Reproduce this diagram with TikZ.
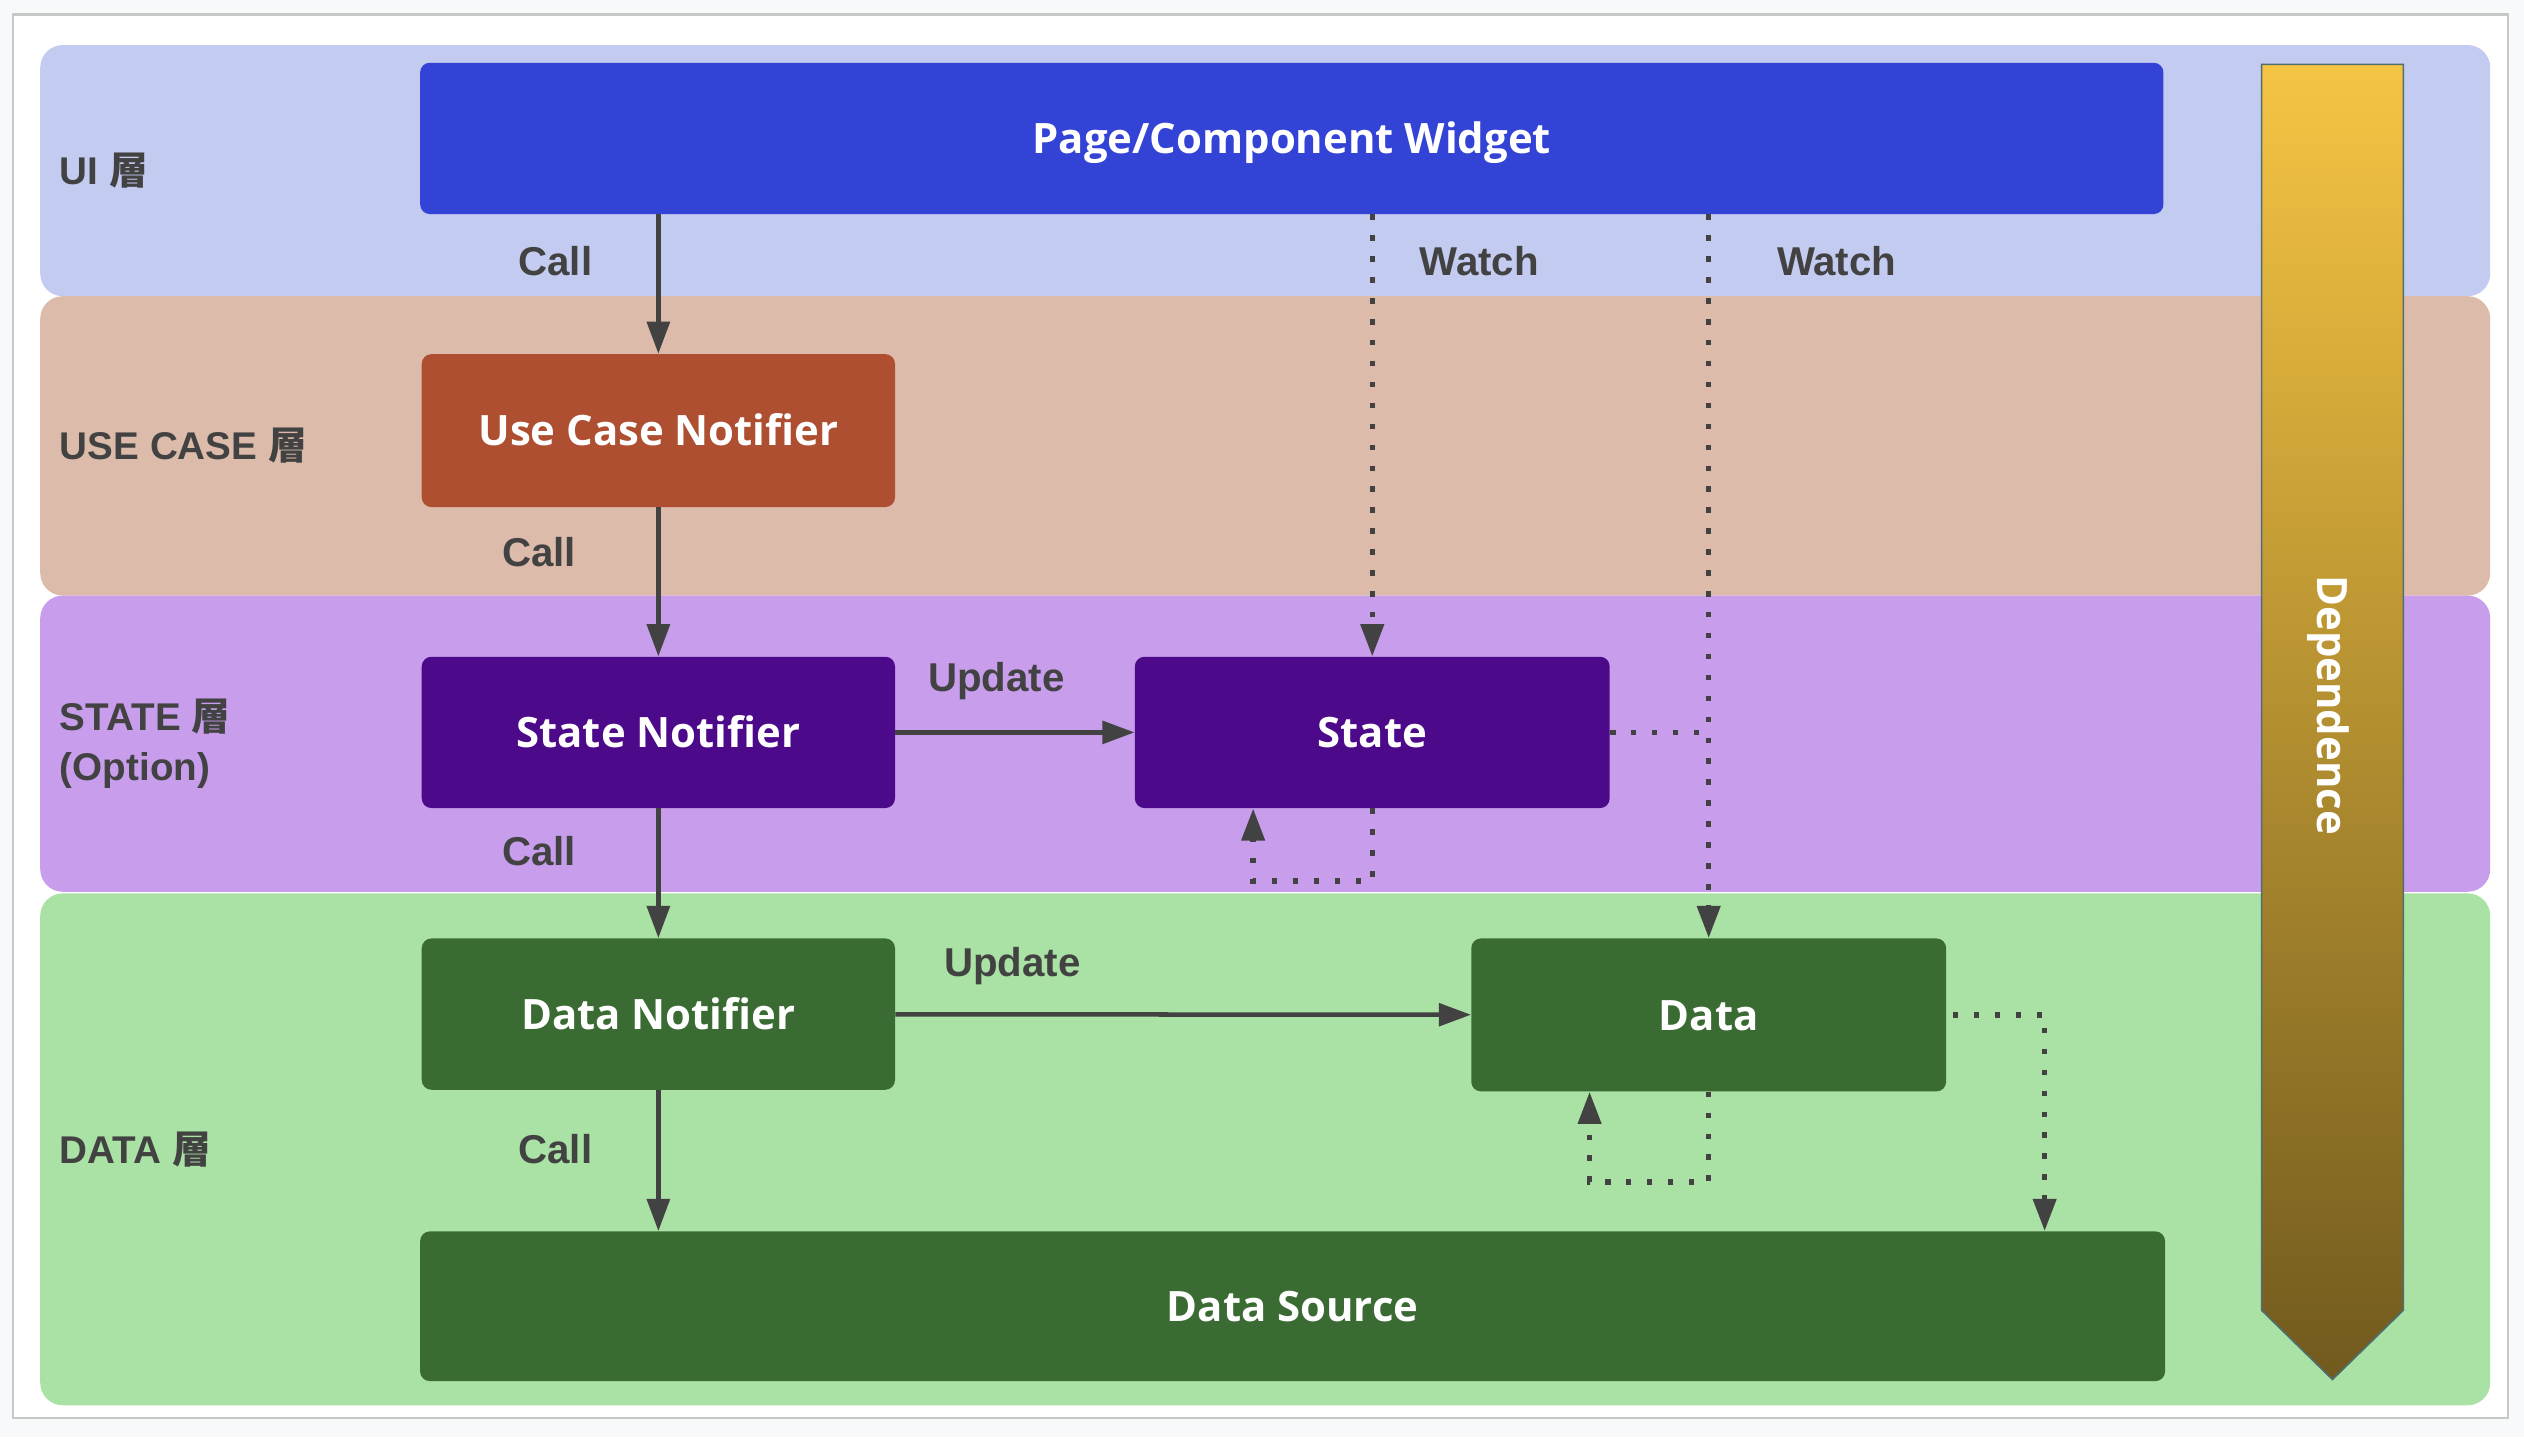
\documentclass[tikz,border=0pt]{standalone}
\usepackage{fontspec}
\usepackage{tikz}
\usetikzlibrary{arrows.meta}
\setmainfont{Liberation Sans}
\newfontfamily\boxfont{Open Sans}
\newfontfamily\cjk{Noto Sans CJK JP}
\definecolor{pagebg}{HTML}{F8F9FB}
\definecolor{frame}{HTML}{C6C7C7}
\definecolor{ink}{HTML}{424242}
\definecolor{uiband}{HTML}{C3CBF0}
\definecolor{ucband}{HTML}{DDBBAB}
\definecolor{stband}{HTML}{C89EEC}
\definecolor{dtband}{HTML}{AAE1A4}
\definecolor{uibox}{HTML}{3343D6}
\definecolor{ucbox}{HTML}{AD4F30}
\definecolor{stbox}{HTML}{4C0A8A}
\definecolor{dtbox}{HTML}{3A6B33}
\definecolor{deptop}{HTML}{F5C443}
\definecolor{depbot}{HTML}{715A1E}
\definecolor{depedge}{HTML}{4E6E70}
\newcommand{\tiername}[1]{#1~{\cjk\bfseries 層}}
\tikzset{
  band/.style={rounded corners=14pt},
  box/.style={rounded corners=6pt,text=white,inner sep=0pt,text height=19pt,text depth=0pt,
    font=\boxfont\bfseries\fontsize{26}{30}\selectfont},
  tag/.style={text=ink,inner sep=0pt,font=\bfseries\fontsize{25}{30}\selectfont},
  tier/.style={tag,anchor=west,align=left,font=\bfseries\fontsize{24}{31}\selectfont},
  flow/.style={draw=ink,line width=2.8pt,-{Triangle[length=20pt,width=14pt]}},
  watch/.style={flow,line width=3.4pt,dash pattern=on 3.4pt off 9.6pt}
}
\begin{document}
\begin{tikzpicture}[x=1pt,y=-1pt]
\useasboundingbox (0,0) rectangle (1568,893);
\fill[pagebg] (0,0) rectangle (1568,893);
\draw[frame,fill=white,line width=1.5pt] (8,9) rectangle (1558,881);

% layers
\fill[band,uiband] (25,28) rectangle (1547,184);
\fill[band,ucband] (25,184) rectangle (1547,370);
\fill[band,stband] (25,370) rectangle (1547,554);
\fill[band,dtband] (25,555) rectangle (1547,873);
\node[tier] (tui) at (37,106) {\tiername{UI}};
\node[tier] (tuc) at (37,277) {\tiername{USE CASE}};
\node[tier] (tst) at (37,462) {\tiername{STATE}\\(Option)};
\node[tier] (tdt) at (37,714) {\tiername{DATA}};

% dependence
\shadedraw[top color=deptop,bottom color=depbot,draw=depedge,line width=1pt]
  (1405,40) -- (1493,40) -- (1493,814) -- (1449,857) -- (1405,814) -- cycle;
\node[box,rotate=-90] (dep) at (1449,438) {Dependence};

% boxes
\node[box,fill=uibox,minimum width=1083pt,minimum height=94pt] (page) at (802.5,86) {Page/Component Widget};
\node[box,fill=ucbox,minimum width=294pt,minimum height=95pt] (ucn) at (409,267.5) {Use Case Notifier};
\node[box,fill=stbox,minimum width=294pt,minimum height=94pt] (sn) at (409,455) {State Notifier};
\node[box,fill=stbox,minimum width=295pt,minimum height=94pt] (state) at (852.5,455) {State};
\node[box,fill=dtbox,minimum width=294pt,minimum height=94pt] (dn) at (409,630) {Data Notifier};
\node[box,fill=dtbox,minimum width=295pt,minimum height=95pt] (data) at (1061.5,630.5) {Data};
\node[box,fill=dtbox,minimum width=1084pt,minimum height=93pt] (ds) at (803,811.5) {Data Source};

% calls
\draw[flow] (page.south -| ucn.north) -- (ucn.north);
\draw[flow] (ucn) -- (sn);
\draw[flow] (sn) -- (dn);
\draw[flow] (dn.south) -- (dn.south |- ds.north);
\draw[flow] (sn) -- (state);
\draw[flow] (dn) -- (data);
\node[tag] (c1) at (345,162) {Call};
\node[tag] (c2) at (335,343) {Call};
\node[tag] (c3) at (335,529) {Call};
\node[tag] (c4) at (345,714) {Call};
\node[tag] (u1) at (619,423) {Update};
\node[tag] (u2) at (629,600) {Update};

% watches
\draw[watch] (page.south -| state.north) -- (state.north);
\draw[watch] (page.south -| data.north) -- (data.north);
\draw[watch,-] (state.east) -- (state.east -| data.north);
\draw[watch] (state.south) -- ++(0,45) -| ([xshift=-74pt]state.south);
\draw[watch] (data.south) -- ++(0,56) -| ([xshift=-74pt]data.south);
\draw[watch] ([xshift=4pt]data.east) -| ([xshift=-75pt]ds.north east);
\node[tag] (w1) at (919,162) {Watch};
\node[tag] (w2) at (1141,162) {Watch};
\end{tikzpicture}
\end{document}
